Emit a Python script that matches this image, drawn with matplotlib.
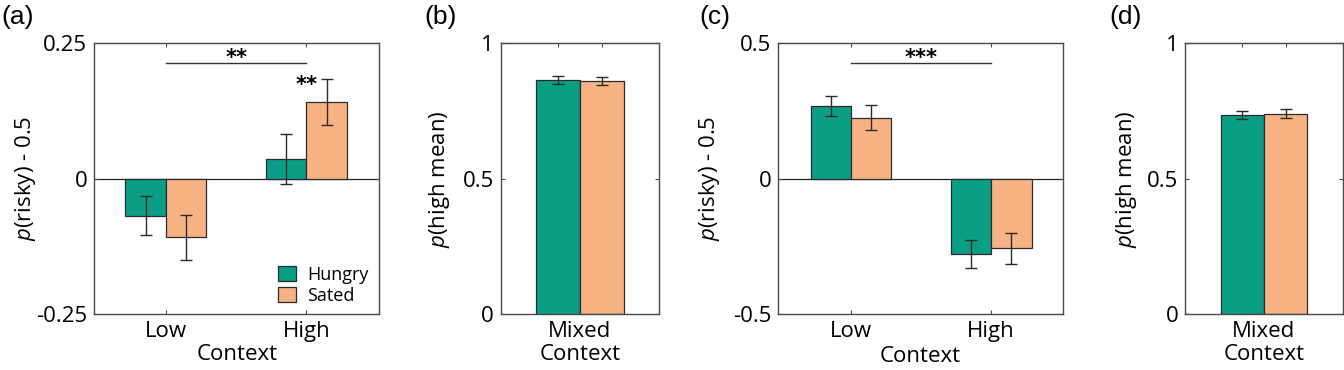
import matplotlib
matplotlib.use("Agg")
import matplotlib.pyplot as plt
import numpy as np

plt.rcParams['font.family'] = ['Open Sans', 'DejaVu Sans']
plt.rcParams['mathtext.fontset'] = 'custom'
plt.rcParams['mathtext.it'] = 'Open Sans:italic'
plt.rcParams['mathtext.rm'] = 'Open Sans'
plt.rcParams['xtick.labelsize'] = 16
plt.rcParams['ytick.labelsize'] = 16

# ---- data ----
contexts = ["Low", "High"]
groups = ["Hungry", "Sated"]

a_hungry = [-0.068, 0.037]
a_hungry_err = [0.036, 0.046]
a_sated = [-0.108, 0.142]
a_sated_err = [0.041, 0.042]

b_labels = ["Mixed\nContext"]
b_hungry = [0.863]
b_hungry_err = [0.015]
b_sated = [0.862]
b_sated_err = [0.015]

c_hungry = [0.267, -0.277]
c_hungry_err = [0.037, 0.053]
c_sated = [0.225, -0.256]
c_sated_err = [0.046, 0.057]

d_hungry = [0.735]
d_hungry_err = [0.014]
d_sated = [0.740]
d_sated_err = [0.017]

GREEN = '#0b9e87'
ORANGE = '#f8b384'
EDGE = '#2a2a2a'
SPINE = '#4a4a4a'
FS = 16

W, H = 1344, 370
fig = plt.figure(figsize=(W / 100, H / 100), dpi=100)


def px_axes(x0, x1, y0=43.3, y1=314.3):
    return fig.add_axes([x0 / W, (H - y1) / H, (x1 - x0) / W, (y1 - y0) / H])


def style(ax, top=True):
    for s in ax.spines.values():
        s.set_color(SPINE)
        s.set_linewidth(1.0)
    ax.tick_params(direction='in', length=3, width=0.8, color=SPINE,
                   top=top, right=True, labelsize=FS, pad=5)


BW = 0.288


def bars(ax, x, hv, he, sv, se):
    x = np.asarray(x, dtype=float)
    ax.bar(x - BW / 2, hv, BW, color=GREEN, edgecolor=EDGE, linewidth=0.9,
           label=groups[0], zorder=2)
    ax.bar(x + BW / 2, sv, BW, color=ORANGE, edgecolor=EDGE, linewidth=0.9,
           label=groups[1], zorder=2)
    ax.errorbar(x - BW / 2, hv, yerr=he, fmt='none', ecolor=EDGE,
                elinewidth=1.0, capsize=4.5, capthick=1.0, zorder=3)
    ax.errorbar(x + BW / 2, sv, yerr=se, fmt='none', ecolor=EDGE,
                elinewidth=1.0, capsize=4.5, capthick=1.0, zorder=3)


def top_bar_ticks(ax, x):
    sec = ax.secondary_xaxis('top')
    sec.set_xticks([x - BW / 2, x + BW / 2])
    sec.tick_params(direction='in', length=3, width=0.8, color=SPINE,
                    labeltop=False)
    sec.spines['top'].set_color(SPINE)


# ---- (a) ----
axa = px_axes(94.3, 379.3)
xa = np.arange(1, len(contexts) + 1)
bars(axa, xa, a_hungry, a_hungry_err, a_sated, a_sated_err)
axa.axhline(0, color='#222222', lw=0.9, zorder=1)
axa.set_xlim(0.49, 2.52)
axa.set_ylim(-0.25, 0.25)
axa.set_yticks([-0.25, 0, 0.25])
axa.set_yticklabels(['-0.25', '0', '0.25'])
axa.set_xticks(xa)
axa.set_xticklabels(contexts)
style(axa)
axa.set_xlabel('Context', fontsize=FS, labelpad=1)
axa.set_ylabel('$p$(risky) - 0.5', fontsize=FS)
axa.yaxis.set_label_coords(-0.1975, 0.5)
axa.plot([xa[0], xa[1]], [0.214, 0.214], color='#333333', lw=1.0)
axa.text((xa[0] + xa[1]) / 2, 0.204, '**', ha='center', va='bottom',
         fontsize=15, fontweight='bold', family='DejaVu Sans')
axa.text(xa[1], 0.155, '**', ha='center', va='bottom',
         fontsize=15, fontweight='bold', family='DejaVu Sans')
leg = axa.legend(loc='lower right', bbox_to_anchor=(1.0, -0.005), frameon=False,
                 fontsize=13, handlelength=1.0, handleheight=0.9,
                 handletextpad=0.6, labelspacing=0.15, borderaxespad=0.2)
fig.text(1 / W, 1 - 17 / H, '(a)', fontsize=19, family='Liberation Sans',
         ha='left', va='center')

# ---- (b) ----
axb = px_axes(501, 659)
bars(axb, [1], b_hungry, b_hungry_err, b_sated, b_sated_err)
axb.set_xlim(0.478, 1.522)
axb.set_ylim(0, 1)
axb.set_yticks([0, 0.5, 1])
axb.set_yticklabels(['0', '0.5', '1'])
axb.set_xticks([1])
axb.set_xticklabels(b_labels, linespacing=1.1)
style(axb, top=False)
top_bar_ticks(axb, 1)
axb.set_ylabel('$p$(high mean)', fontsize=FS)
axb.yaxis.set_label_coords(-0.31, 0.5)
fig.text(424 / W, 1 - 17 / H, '(b)', fontsize=19, family='Liberation Sans',
         ha='left', va='center')

# ---- (c) ----
axc = px_axes(778.3, 1062.7)
xc = np.arange(1, len(contexts) + 1)
bars(axc, xc, c_hungry, c_hungry_err, c_sated, c_sated_err)
axc.axhline(0, color='#222222', lw=0.9, zorder=1)
axc.set_xlim(0.48, 2.51)
axc.set_ylim(-0.5, 0.5)
axc.set_yticks([-0.5, 0, 0.5])
axc.set_yticklabels(['-0.5', '0', '0.5'])
axc.set_xticks(xc)
axc.set_xticklabels(contexts)
style(axc)
axc.set_xlabel('Context', fontsize=FS, labelpad=3)
axc.set_ylabel('$p$(risky) - 0.5', fontsize=FS)
axc.yaxis.set_label_coords(-0.198, 0.5)
axc.plot([xc[0], xc[1]], [0.427, 0.427], color='#333333', lw=1.0)
axc.text((xc[0] + xc[1]) / 2, 0.408, '***', ha='center', va='bottom',
         fontsize=15, fontweight='bold', family='DejaVu Sans')
fig.text(699 / W, 1 - 17 / H, '(c)', fontsize=19, family='Liberation Sans',
         ha='left', va='center')

# ---- (d) ----
axd = px_axes(1185.3, 1342.5)
bars(axd, [1], d_hungry, d_hungry_err, d_sated, d_sated_err)
axd.set_xlim(0.478, 1.522)
axd.set_ylim(0, 1)
axd.set_yticks([0, 0.5, 1])
axd.set_yticklabels(['0', '0.5', '1'])
axd.set_xticks([1])
axd.set_xticklabels(b_labels, linespacing=1.1)
style(axd, top=False)
top_bar_ticks(axd, 1)
axd.set_ylabel('$p$(high mean)', fontsize=FS)
axd.yaxis.set_label_coords(-0.2945, 0.5)
fig.text(1109 / W, 1 - 17 / H, '(d)', fontsize=19, family='Liberation Sans',
         ha='left', va='center')

fig.savefig('out.png', dpi=100)
